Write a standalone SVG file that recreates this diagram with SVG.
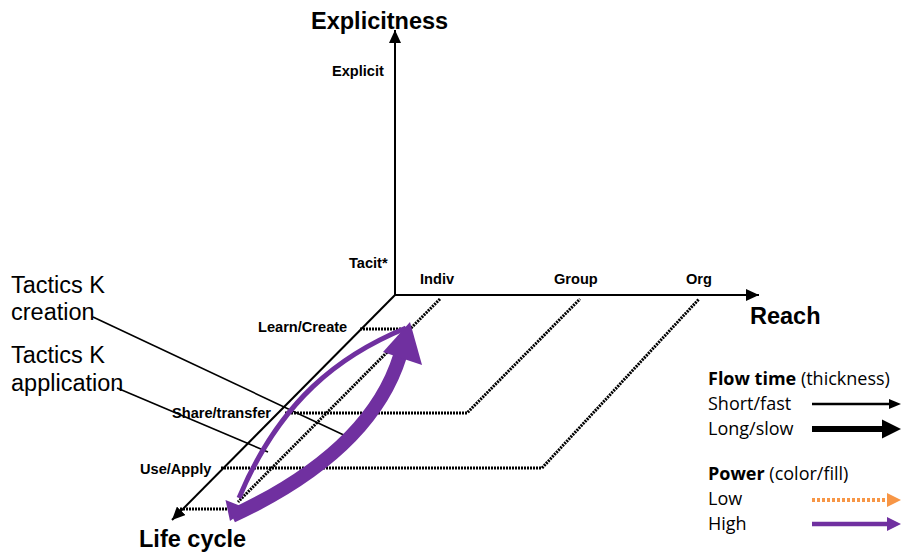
<svg xmlns="http://www.w3.org/2000/svg" width="901" height="552" viewBox="0 0 901 552">
<style>
.ax{fill:none;stroke:#000;stroke-width:2}
.dot{fill:none;stroke:#000;stroke-width:3;stroke-dasharray:2 1}
.lead{fill:none;stroke:#000;stroke-width:1.6}
.big{font-family:"Liberation Sans",Arial,sans-serif;font-weight:bold;font-size:23.5px;fill:#000}
.sm{font-family:"Liberation Sans",Arial,sans-serif;font-weight:bold;font-size:14.6px;fill:#000}
.tk{font-family:"Liberation Sans",Arial,sans-serif;font-size:23.5px;fill:#000}
.lg{font-family:"Open Sans","Noto Sans",sans-serif;font-size:18px;fill:#000}
.pu{fill:#7030A0}
</style>
<defs>
<marker id="ah" markerUnits="userSpaceOnUse" markerWidth="14" markerHeight="12" refX="13" refY="6" orient="auto">
<path d="M0,0 L13,6 L0,12 Z" fill="#000"/>
</marker>
</defs>
<rect width="901" height="552" fill="#fff"/>

<g id="axes">
<line class="ax" x1="395" y1="296" x2="395" y2="30" marker-end="url(#ah)"/>
<line class="ax" x1="394" y1="295" x2="759" y2="295" marker-end="url(#ah)"/>
<line class="ax" x1="395" y1="295" x2="172" y2="520" marker-end="url(#ah)"/>
</g>

<g id="grid">
<line class="dot" x1="440" y1="299" x2="238" y2="502"/>
<line class="dot" x1="180" y1="509" x2="227" y2="509"/>
<line class="dot" x1="360" y1="329" x2="412" y2="329"/>
<polyline class="dot" points="285,413 467,413 580,299"/>
<polyline class="dot" points="221,468 542,468 699,299"/>
</g>

<g id="axis-labels">
<text class="big" x="311" y="29">Explicitness</text>
<text class="big" x="750" y="324">Reach</text>
<text class="big" x="139" y="547">Life cycle</text>
<text class="sm" x="332" y="76">Explicit</text>
<text class="sm" x="349" y="268">Tacit*</text>
<text class="sm" x="420" y="284">Indiv</text>
<text class="sm" x="554" y="284">Group</text>
<text class="sm" x="686" y="284">Org</text>
<text class="sm" x="258" y="332">Learn/Create</text>
<text class="sm" x="172" y="418">Share/transfer</text>
<text class="sm" x="140" y="474">Use/Apply</text>
</g>

<g id="tactics-creation">
<text class="tk" x="11" y="293">Tactics K</text>
<text class="tk" x="11" y="320">creation</text>
<line class="lead" x1="93" y1="317" x2="348" y2="437"/>
</g>
<g id="tactics-application">
<text class="tk" x="11" y="363">Tactics K</text>
<text class="tk" x="11" y="391">application</text>
<line class="lead" x1="117" y1="388" x2="268" y2="452"/>
</g>

<g id="flows">
<path d="M406,328 C340,355 280,400 239,498" fill="none" stroke="#7030A0" stroke-width="5"/>
<polygon class="pu" points="230,521 225.5,500 247,508.5"/>
<path d="M232,516 Q370,452 400,356" fill="none" stroke="#7030A0" stroke-width="14"/>
<polygon class="pu" points="410,322 383,352 422,365"/>
</g>

<g id="legend">
<text class="lg" x="708" y="385"><tspan font-weight="bold">Flow time</tspan> (thickness)</text>
<text class="lg" x="708" y="410">Short/fast</text>
<text class="lg" x="708" y="435">Long/slow</text>
<text class="lg" x="708" y="480"><tspan font-weight="bold">Power</tspan> (color/fill)</text>
<text class="lg" x="708" y="505">Low</text>
<text class="lg" x="708" y="530">High</text>
<line x1="812" y1="404" x2="891" y2="404" stroke="#000" stroke-width="2.5"/>
<polygon points="889,399 901,404 889,409" fill="#000"/>
<line x1="812" y1="429" x2="884" y2="429" stroke="#000" stroke-width="6"/>
<polygon points="882,419.5 901,429 882,438.5" fill="#000"/>
<line x1="812" y1="500" x2="888" y2="500" stroke="#F79646" stroke-width="4" stroke-dasharray="3 2"/>
<polygon points="887,493 901,500 887,507" fill="#F79646"/>
<line x1="812" y1="524" x2="888" y2="524" stroke="#7030A0" stroke-width="4.5"/>
<polygon points="887,517 901,524 887,531" fill="#7030A0"/>
</g>
</svg>
